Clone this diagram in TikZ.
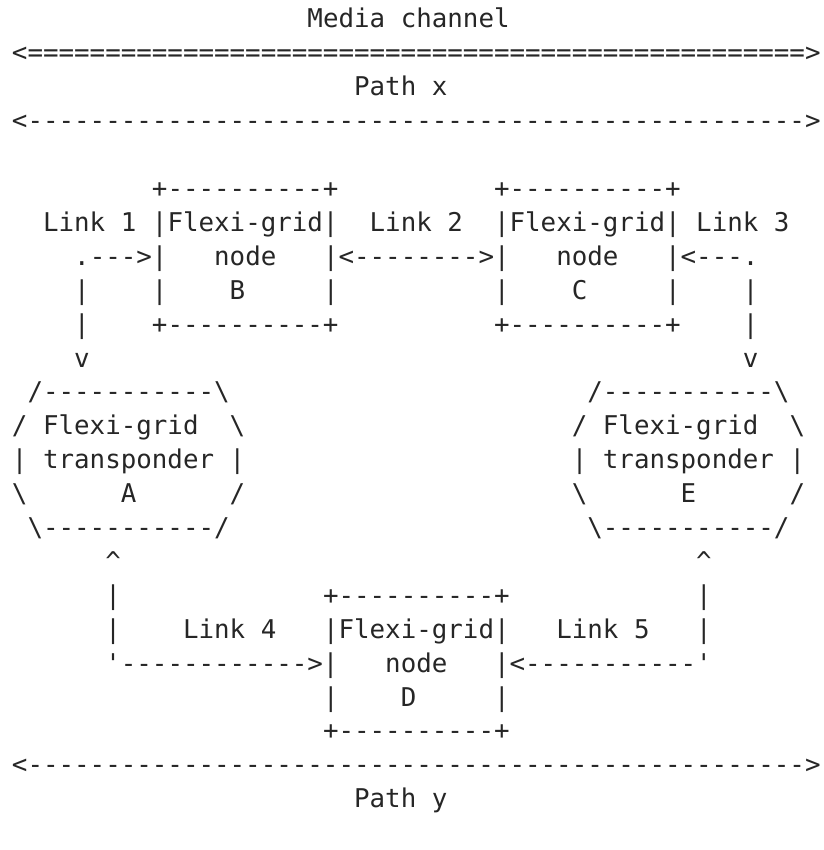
\documentclass[tikz,border=0pt]{standalone}
\usepackage{fontspec}
\setmonofont{DejaVu Sans Mono}

\begin{document}
\begin{tikzpicture}[x=15.55pt,y=-33.9pt,
	ascii/.style={anchor=base west,inner sep=0pt,outer sep=0pt,text=black!85,
		font=\ttfamily\fontsize{25.83pt}{34pt}\selectfont}]

	\useasboundingbox (-12pt,-855.9pt) rectangle (811pt,-5.9pt);

	% paths on top
	\node[ascii] (mediach) at (19,1) {Media channel};
	\node[ascii] (mcarrow) at (0,2) {<==================================================>};
	\node[ascii] (pathx) at (22,3) {Path x};
	\node[ascii] (pxarrow) at (0,4) {<-------------------------------------------------->};

	% nodes B and C
	\node[ascii] (btop) at (9,6) {+----------+};
	\node[ascii] (ctop) at (31,6) {+----------+};
	\node[ascii] (link1) at (2,7) {Link 1};
	\node[ascii] (bname) at (9,7) {|Flexi-grid|};
	\node[ascii] (link2) at (23,7) {Link 2};
	\node[ascii] (cname) at (31,7) {|Flexi-grid|};
	\node[ascii] (link3) at (44,7) {Link 3};
	\node[ascii] (l1arrow) at (4,8) {.--->|};
	\node[ascii] (bnode) at (13,8) {node};
	\node[ascii] (l2arrow) at (20,8) {|<-------->|};
	\node[ascii] (cnode) at (35,8) {node};
	\node[ascii] (l3arrow) at (42,8) {|<---.};
	\node[ascii] (l1bar) at (4,9) {|};
	\node[ascii] (bleft) at (9,9) {|};
	\node[ascii] (bid) at (14,9) {B};
	\node[ascii] (bright) at (20,9) {|};
	\node[ascii] (cleft) at (31,9) {|};
	\node[ascii] (cid) at (36,9) {C};
	\node[ascii] (cright) at (42,9) {|};
	\node[ascii] (l3bar) at (47,9) {|};
	\node[ascii] (l1barb) at (4,10) {|};
	\node[ascii] (bbot) at (9,10) {+----------+};
	\node[ascii] (cbot) at (31,10) {+----------+};
	\node[ascii] (l3barb) at (47,10) {|};
	\node[ascii] (l1tip) at (4,11) {v};
	\node[ascii] (l3tip) at (47,11) {v};

	% transponders A and E
	\node[ascii] (atop) at (1,12) {/-----------\textbackslash};
	\node[ascii] (etop) at (37,12) {/-----------\textbackslash};
	\node[ascii] (aname) at (0,13) {/ Flexi-grid};
	\node[ascii] (aright) at (14,13) {\textbackslash};
	\node[ascii] (ename) at (36,13) {/ Flexi-grid};
	\node[ascii] (eright) at (50,13) {\textbackslash};
	\node[ascii] (atype) at (0,14) {| transponder |};
	\node[ascii] (etype) at (36,14) {| transponder |};
	\node[ascii] (aleft) at (0,15) {\textbackslash};
	\node[ascii] (aid) at (7,15) {A};
	\node[ascii] (arightb) at (14,15) {/};
	\node[ascii] (eleft) at (36,15) {\textbackslash};
	\node[ascii] (eid) at (43,15) {E};
	\node[ascii] (erightb) at (50,15) {/};
	\node[ascii] (abot) at (1,16) {\textbackslash-----------/};
	\node[ascii] (ebot) at (37,16) {\textbackslash-----------/};

	% node D
	\node[ascii] (l4tip) at (6,17) {\textasciicircum};
	\node[ascii] (l5tip) at (44,17) {\textasciicircum};
	\node[ascii] (l4bar) at (6,18) {|};
	\node[ascii] (dtop) at (20,18) {+----------+};
	\node[ascii] (l5bar) at (44,18) {|};
	\node[ascii] (l4barb) at (6,19) {|};
	\node[ascii] (link4) at (11,19) {Link 4};
	\node[ascii] (dname) at (20,19) {|Flexi-grid|};
	\node[ascii] (link5) at (35,19) {Link 5};
	\node[ascii] (l5barb) at (44,19) {|};
	\node[ascii] (l4arrow) at (6,20) {'------------>|};
	\node[ascii] (dnode) at (24,20) {node};
	\node[ascii] (l5arrow) at (31,20) {|<-----------'};
	\node[ascii] (dleft) at (20,21) {|};
	\node[ascii] (did) at (25,21) {D};
	\node[ascii] (dright) at (31,21) {|};
	\node[ascii] (dbot) at (20,22) {+----------+};

	% path at the bottom
	\node[ascii] (pyarrow) at (0,23) {<-------------------------------------------------->};
	\node[ascii] (pathy) at (22,24) {Path y};

\end{tikzpicture}
\end{document}
